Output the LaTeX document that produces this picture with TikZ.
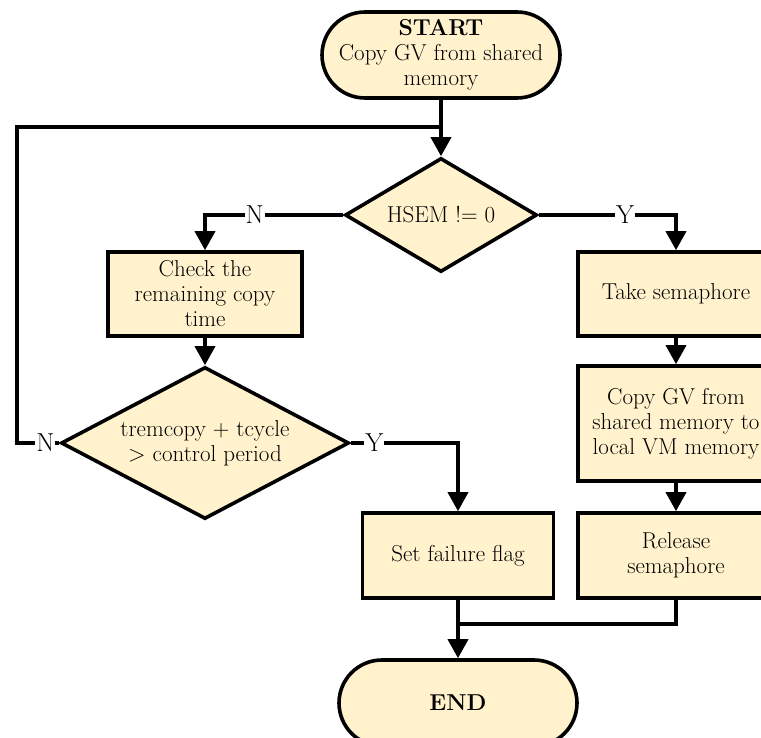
\documentclass[tikz,border=0pt]{standalone}
\usepackage{fontspec}
\usetikzlibrary{arrows.meta,shapes.geometric,positioning}
\definecolor{cream}{HTML}{FFF2CC}
\tikzstyle{term} = [rectangle, draw, fill=cream, rounded corners=43pt,
    minimum width=238pt, minimum height=86pt, align=center]
\tikzstyle{block} = [rectangle, draw, fill=cream, 
    minimum width=196pt, minimum height=84pt, align=center]
\tikzstyle{decision} = [diamond, draw, fill=cream, inner sep=0pt, align=center]
\tikzstyle{yn} = [fill=white, inner sep=1pt, font=\fontsize{26}{28}\selectfont]

\begin{document}
\begin{tikzpicture}[x=1pt,y=-1pt,line width=3.6pt,
                    >={Triangle[width=20pt,length=19pt]},
                    font=\fontsize{23}{25}\selectfont]
  \clip (0,0) rectangle (761,738);
  \node[term]     (start) at (441,55)  {\textbf{START}\\Copy GV from shared\\memory};
  \node[decision, shape aspect=1.68, minimum width=192pt, minimum height=114pt] (hsem) at (441,215) {HSEM != 0};
  \node[block, minimum width=194pt] (check) at (205,294) {Check the\\remaining copy\\time};
  \node[decision, shape aspect=1.9, minimum width=288pt, minimum height=152pt] (cmp) at (205,443)
       {tremcopy + tcycle\\> control period};
  \node[block, minimum width=191pt, minimum height=85pt] (fail) at (458,555.5) {Set failure flag};
  \node[block]    (take) at (676,294)  {Take semaphore};
  \node[block, minimum height=115pt] (copy) at (676,423.5) {Copy GV from\\shared memory to\\local VM memory};
  \node[block, minimum height=85pt]  (rel) at (676,555.5) {Release\\semaphore};
  \node[term]     (end) at (458,703)  {\textbf{END}};

  \coordinate (loop) at (17,127);
  \coordinate (join) at (458,624);

  \draw[->] (start) -- (hsem);
  \draw[->] (hsem.west) -| node[yn,pos=0.32] {N} (check.north);
  \draw[->] (hsem.east) -| node[yn,pos=0.315] {Y} (take.north);
  \draw[->] (check) -- (cmp);
  \draw (cmp.west) -- node[yn,pos=0.33] {N} (cmp.west -| loop) -- (loop) -- (loop -| start);
  \draw[->] (cmp.east) -| node[yn,pos=0.11] {Y} (fail.north);
  \draw[->] (take) -- (copy);
  \draw[->] (copy) -- (rel);
  \draw (rel.south) |- (join);
  \draw[->] (fail) -- (end);
\end{tikzpicture}
\end{document}
